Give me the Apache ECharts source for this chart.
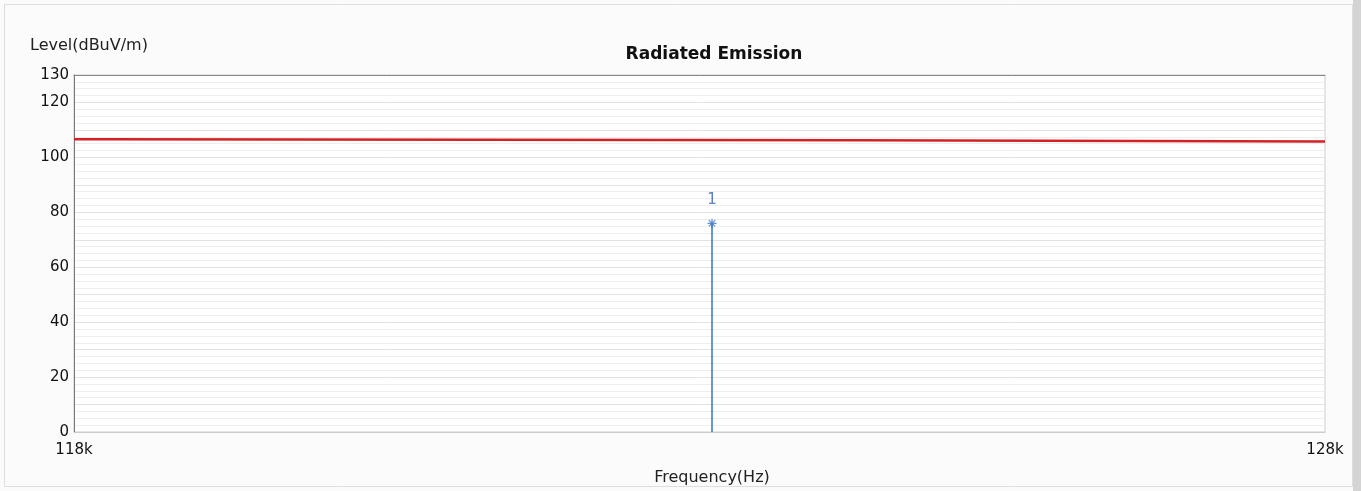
<!DOCTYPE html>
<html>
<head>
<meta charset="utf-8">
<script src="https://cdn.jsdelivr.net/npm/echarts@6/dist/echarts.min.js"></script>
<style>html,body{margin:0;padding:0;background:#fff}#c{width:1361px;height:491px}</style>
</head>
<body>
<div id="c"></div>
<script>
const limitFreq = [118000, 118256, 124267, 128000];
const limitLevel = [106.6, 106.2, 105.8, 105.8];
const peakFreq = [123100];
const peakLevel = [76];
const peakLabels = ['1'];
const yTickLabels = [0, 20, 40, 60, 80, 100, 120, 130];
const xTickLabels = {118000: '118k', 128000: '128k'};

const FONT = 'DejaVu Sans';
const chart = echarts.init(document.getElementById('c'), null, {renderer: 'canvas'});
const starPath = 'path://M5,0 L5,10 M0,5 L10,5 M1.5,1.5 L8.5,8.5 M8.5,1.5 L1.5,8.5';

const option = {
  backgroundColor: '#fbfbfb',
  animation: false,
  graphic: [
    {type: 'rect', shape: {x: 4.5, y: 4.5, width: 1348, height: 482}, style: {fill: 'none', stroke: '#dedede', lineWidth: 1}, z: -1},
    {type: 'rect', shape: {x: 1353, y: 0, width: 8, height: 491}, style: {fill: '#d4d4d4'}, z: -1}
  ],
  title: {
    text: 'Radiated Emission', left: 709, top: 41, textAlign: 'center',
    textStyle: {fontFamily: FONT, fontSize: 17, fontWeight: 'bold', color: '#111'}
  },
  grid: {left: 74, right: 36, top: 75, bottom: 58, show: true, backgroundColor: '#ffffff', borderColor: '#cccccc', borderWidth: 1},
  xAxis: [{
    type: 'value', min: 118000, max: 128000, interval: 2000,
    name: 'Frequency(Hz)', nameLocation: 'middle', nameGap: 38,
    nameTextStyle: {fontFamily: FONT, fontSize: 16, color: '#222', padding: [0, 0, 0, 25]},
    axisLine: {show: true, lineStyle: {color: '#cccccc'}},
    axisTick: {show: false},
    splitLine: {show: false},
    axisLabel: {
      fontFamily: FONT, fontSize: 15, color: '#111', margin: 11,
      formatter: v => xTickLabels[v] || ''
    }
  }, {
    type: 'value', position: 'top', min: 118000, max: 128000, interval: 2000,
    axisLine: {show: true, lineStyle: {color: '#888888'}},
    axisTick: {show: false}, axisLabel: {show: false}, splitLine: {show: false}
  }],
  yAxis: {
    type: 'value', min: 0, max: 130, interval: 10,
    name: 'Level(dBuV/m)', nameLocation: 'end', nameGap: 21,
    nameTextStyle: {fontFamily: FONT, fontSize: 16, color: '#222', align: 'left', padding: [0, 0, 0, -44]},
    axisLine: {show: true, lineStyle: {color: '#777777'}},
    axisTick: {show: false},
    axisLabel: {
      fontFamily: FONT, fontSize: 15, color: '#111', margin: 5,
      formatter: v => yTickLabels.includes(v) ? String(v) : ''
    },
    splitLine: {show: true, lineStyle: {color: '#e2e2e2', width: 1}},
    minorTick: {show: false, splitNumber: 4},
    minorSplitLine: {show: true, lineStyle: {color: '#eeeeee', width: 1}}
  },
  series: [
    {
      type: 'line', step: 'end', symbol: 'none',
      data: limitFreq.map((f, i) => [f, limitLevel[i]]),
      lineStyle: {color: '#d42222', width: 2.5}, z: 3
    },
    {
      type: 'line', symbol: 'none',
      data: [[peakFreq[0], 0], [peakFreq[0], peakLevel[0]]],
      lineStyle: {color: '#3a72c8', width: 1.5}, z: 4
    },
    {
      type: 'scatter', symbol: starPath, symbolSize: 9,
      data: peakFreq.map((f, i) => ({value: [f, peakLevel[i]], name: peakLabels[i]})),
      itemStyle: {color: 'none', borderColor: '#3a72c8', borderWidth: 1.2},
      label: {show: true, position: 'top', distance: 9, formatter: p => p.name,
        fontFamily: FONT, fontSize: 15, color: '#2f5fc0'},
      z: 5
    }
  ]
};
chart.setOption(option);
</script>
</body>
</html>
